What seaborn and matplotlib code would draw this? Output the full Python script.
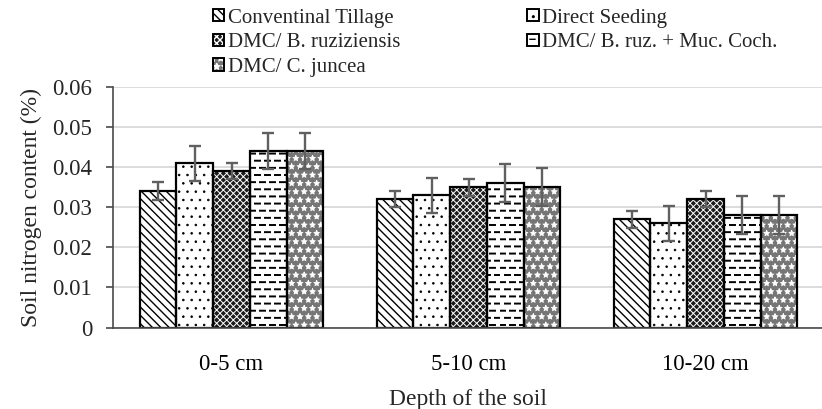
import warnings
warnings.filterwarnings('ignore')
import numpy as np
import pandas as pd
import matplotlib
matplotlib.use('Agg')
import matplotlib.pyplot as plt
from matplotlib import hatch as mhatch
from matplotlib.path import Path
from matplotlib.patches import Patch
from matplotlib.legend_handler import HandlerTuple
import seaborn as sns

# ---------------- data ----------------
depths = ['0-5 cm', '5-10 cm', '10-20 cm']
treatments = ['Conventinal Tillage', 'Direct Seeding', 'DMC/ B. ruziziensis',
              'DMC/ B. ruz. + Muc. Coch.', 'DMC/ C. juncea']
conv_tillage = [0.034, 0.032, 0.027]
direct_seeding = [0.041, 0.033, 0.026]
dmc_b_ruz = [0.039, 0.035, 0.032]
dmc_b_ruz_muc = [0.044, 0.036, 0.028]
dmc_c_juncea = [0.044, 0.035, 0.028]
err_conv_tillage = [0.0022, 0.0020, 0.0021]
err_direct_seeding = [0.0044, 0.0044, 0.0044]
err_dmc_b_ruz = [0.0020, 0.0021, 0.0020]
err_dmc_b_ruz_muc = [0.0045, 0.0047, 0.0047]
err_dmc_c_juncea = [0.0045, 0.0047, 0.0047]
y_ticks = [0, 0.01, 0.02, 0.03, 0.04, 0.05, 0.06]
y_tick_labels = ['0', '0.01', '0.02', '0.03', '0.04', '0.05', '0.06']

values = [conv_tillage, direct_seeding, dmc_b_ruz, dmc_b_ruz_muc, dmc_c_juncea]
errors = [err_conv_tillage, err_direct_seeding, err_dmc_b_ruz,
          err_dmc_b_ruz_muc, err_dmc_c_juncea]

rows = []
for t, vals in zip(treatments, values):
    for d, v in zip(depths, vals):
        rows.append({'depth': d, 'treatment': t, 'value': v})
df = pd.DataFrame(rows)

# ---------------- custom dashed hatch (replaces '-') ----------------
class DashedHorizontal(mhatch.HatchPatternBase):
    def __init__(self, hatch, density):
        n = hatch.count('-')
        self.num_rows = 14 * n
        self.num_cols = 10 * n
        self.num_vertices = self.num_rows * self.num_cols * 2

    def set_vertices_and_codes(self, vertices, codes):
        nr, nc = self.num_rows, self.num_cols
        k = 0
        for i in range(nr):
            y = (i + 0.5) / nr
            off = (i % 2) * 0.5 / nc
            for j in range(nc):
                x0 = j / nc + off
                vertices[k] = (x0, y)
                vertices[k + 1] = (x0 + 0.5 / nc, y)
                codes[k] = Path.MOVETO
                codes[k + 1] = Path.LINETO
                k += 2

idx = mhatch._hatch_types.index(mhatch.HorizontalHatch)
mhatch._hatch_types[idx] = DashedHorizontal

# ---------------- style ----------------
sns.set_style('white')
plt.rcParams['font.family'] = ['Liberation Serif', 'DejaVu Serif']
plt.rcParams['hatch.linewidth'] = 1.0

face = {treatments[0]: 'white', treatments[1]: 'white', treatments[2]: '#1c1c1c',
        treatments[3]: 'white', treatments[4]: '#767676'}
hatch_col = {treatments[0]: 'black', treatments[1]: 'black', treatments[2]: 'white',
             treatments[3]: 'black', treatments[4]: 'white'}
hatches = {treatments[0]: '\\\\\\\\', treatments[1]: '..', treatments[2]: 'xxxxx',
           treatments[3]: '-', treatments[4]: '**'}
hatch_lw = {treatments[0]: 1.0, treatments[1]: 0.6, treatments[2]: 0.7,
            treatments[3]: 1.4, treatments[4]: 0.6}


def style_hatch(p, t):
    p.set_hatch(hatches[t])
    p.set_edgecolor(hatch_col[t])
    p.set_linewidth(0)
    if hasattr(p, 'set_hatch_linewidth'):
        p.set_hatch_linewidth(hatch_lw[t])


fig = plt.figure(figsize=(8.22, 4.09), dpi=100)
ax = fig.add_axes([113 / 822, 81.5 / 409, 709 / 822, 240.5 / 409])

sns.barplot(data=df, x='depth', y='value', hue='treatment', order=depths,
            hue_order=treatments, palette=face, errorbar=None, width=0.776,
            gap=0, linewidth=0, saturation=1, legend=False, ax=ax)
for t, cont in zip(treatments, ax.containers[:5]):
    for p in cont:
        style_hatch(p, t)
        p.set_zorder(2)

sns.barplot(data=df, x='depth', y='value', hue='treatment', order=depths,
            hue_order=treatments, palette={t: 'black' for t in treatments},
            errorbar=None, width=0.776, gap=0, fill=False, linewidth=1.6,
            legend=False, ax=ax)
for cont in ax.containers[5:]:
    for p in cont:
        p.set_zorder(2.5)

for cont, vals, errs in zip(ax.containers[:5], values, errors):
    xs = [p.get_x() + p.get_width() / 2 for p in cont]
    ax.errorbar(xs, vals, yerr=errs, fmt='none', ecolor='#606060',
                elinewidth=1.7, capsize=4, capthick=1.7, zorder=4)

ax.set_ylim(0, 0.06)
ax.set_xlim(-0.5, -0.5 + 709 / 237)
ax.set_yticks(y_ticks)
ax.set_yticklabels(y_tick_labels)
ax.yaxis.grid(True, color='#d9d9d9', linewidth=1.3)
ax.set_axisbelow(True)
for s in ['top', 'right']:
    ax.spines[s].set_visible(False)
for s in ['left', 'bottom']:
    ax.spines[s].set_color('#4a4a4a')
    ax.spines[s].set_linewidth(1.2)

ax.set_xticks([0, 1, 2])
ax.set_xticklabels(depths)
ax.set_xticks([-0.5, 0.5, 1.5], minor=True)
ax.tick_params(axis='x', which='major', length=0, pad=19, labelsize=16.5, colors='black')
ax.tick_params(axis='x', which='minor', length=5, width=1.2, color='#4a4a4a', direction='out')
ax.tick_params(axis='y', length=5, width=1.2, color='#4a4a4a', direction='out',
               pad=10, labelsize=16.5, left=True)
ax.set_xlabel('Depth of the soil', fontsize=17, labelpad=10.5)
ax.set_ylabel('Soil nitrogen content (%)', fontsize=17, labelpad=7)

handles = []
for t in treatments:
    h1 = Patch(facecolor=face[t], edgecolor=hatch_col[t], hatch=hatches[t], linewidth=0)
    if hasattr(h1, 'set_hatch_linewidth'):
        h1.set_hatch_linewidth(hatch_lw[t])
    h2 = Patch(facecolor='none', edgecolor='black', linewidth=1.4)
    handles.append((h1, h2))
order = [0, 2, 4, 1, 3]
fig.legend([handles[i] for i in order], [treatments[i] for i in order],
           handler_map={tuple: HandlerTuple(ndivide=1)},
           ncol=2, loc='upper left', bbox_to_anchor=(213 / 822, 0.979),
           frameon=False, fontsize=15, handlelength=0.55, handleheight=0.55,
           handletextpad=0.15, columnspacing=6.1, labelspacing=0.27,
           borderpad=0, borderaxespad=0)

fig.savefig('out.png', dpi=100)
